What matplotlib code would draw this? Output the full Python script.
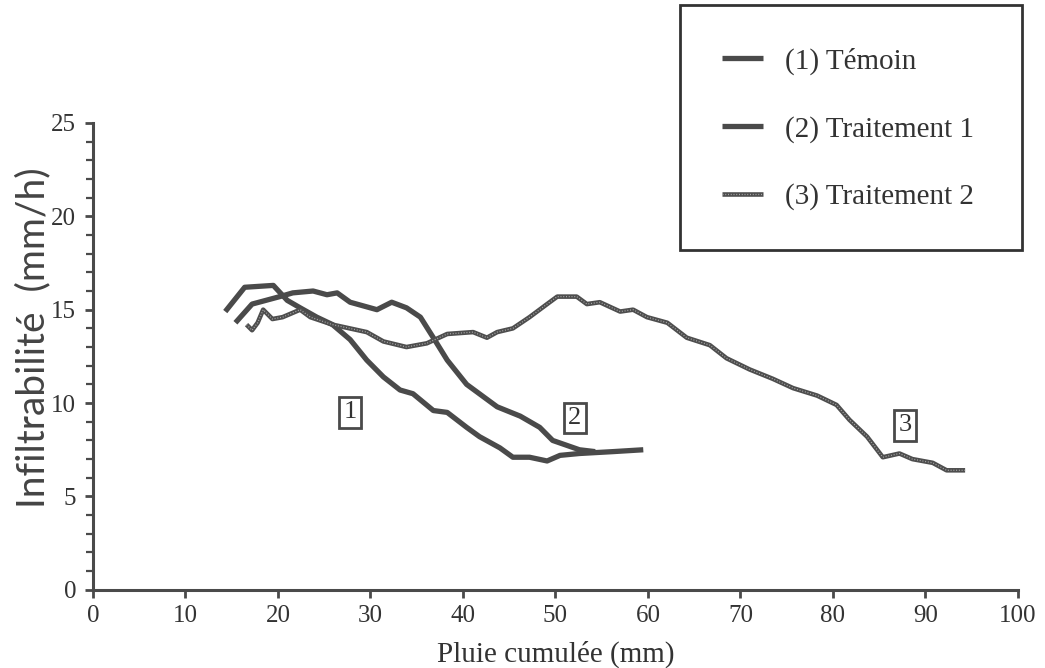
import matplotlib
matplotlib.use('Agg')
import matplotlib.pyplot as plt
from matplotlib.patches import Rectangle
from matplotlib.ticker import MultipleLocator

# Cumulative rain (mm) / infiltrability (mm/h)
x_temoin = [14.3, 16.4, 19.5, 21.0, 22.4, 24.2, 25.9, 27.8, 29.6, 31.4, 33.2, 34.6,
            36.8, 38.3, 40.4, 41.8, 44.0, 45.4, 47.2, 49.1, 50.5, 52.6, 56.2, 59.5]
y_temoin = [14.9, 16.2, 16.3, 15.5, 15.1, 14.6, 14.2, 13.4, 12.3, 11.4, 10.7, 10.5,
            9.6, 9.5, 8.7, 8.2, 7.6, 7.1, 7.1, 6.9, 7.2, 7.3, 7.4, 7.5]

x_trait1 = [15.4, 17.2, 20.2, 21.6, 23.8, 25.3, 26.4, 27.8, 30.7, 32.3, 33.9, 35.4,
            36.8, 38.3, 40.4, 43.7, 46.2, 48.3, 49.7, 52.6, 54.3]
y_trait1 = [14.3, 15.3, 15.7, 15.9, 16.0, 15.8, 15.9, 15.4, 15.0, 15.4, 15.1, 14.6,
            13.5, 12.3, 11.0, 9.8, 9.3, 8.7, 8.0, 7.5, 7.4]

x_trait2 = [16.6, 17.2, 17.8, 18.4, 19.4, 20.5, 22.4, 23.5, 25.9, 29.6, 31.4, 33.9,
            36.1, 38.3, 41.1, 42.6, 43.7, 45.4, 47.2, 49.1, 50.2, 52.3, 53.4, 54.8,
            57.0, 58.4, 59.9, 62.1, 64.2, 66.7, 68.5, 71.0, 73.5, 75.7, 78.3, 80.4,
            81.8, 83.7, 85.4, 87.2, 88.6, 90.8, 92.3, 94.3]
y_trait2 = [14.2, 13.9, 14.3, 15.0, 14.5, 14.6, 15.0, 14.6, 14.2, 13.8, 13.3, 13.0,
            13.2, 13.7, 13.8, 13.5, 13.8, 14.0, 14.6, 15.3, 15.7, 15.7, 15.3, 15.4,
            14.9, 15.0, 14.6, 14.3, 13.5, 13.1, 12.4, 11.8, 11.3, 10.8, 10.4, 9.9,
            9.1, 8.2, 7.1, 7.3, 7.0, 6.8, 6.4, 6.4]

labels = ['(1) Témoin', '(2) Traitement 1', '(3) Traitement 2']
curve_tags = ['1', '2', '3']
tag_x = [27.8, 52.1, 87.8]
tag_y = [9.5, 9.2, 8.8]

ink = '#4a4a4a'
txt = '#333333'
serif = 'Liberation Serif'

fig = plt.figure(figsize=(10.45, 6.68), dpi=100)
ax = fig.add_axes([0.089, 0.117, 0.885, 0.699])

l1, = ax.plot(x_temoin, y_temoin, color=ink, lw=3.8, solid_capstyle='butt')
l2, = ax.plot(x_trait1, y_trait1, color=ink, lw=3.8, solid_capstyle='butt')
# textured line for treatment 2: grey core with fine light dots
l3a, = ax.plot(x_trait2, y_trait2, color='#4e4e4e', lw=3.3, solid_capstyle='butt')
l3b, = ax.plot(x_trait2, y_trait2, color='#a8a8a8', lw=0.9, ls=(0, (0.8, 1.4)))

for t, tx, ty in zip(curve_tags, tag_x, tag_y):
    ax.text(tx, ty, t, fontsize=19, family=serif, color=txt, ha='center', va='center',
            bbox=dict(boxstyle='square,pad=0.16', fc='white', ec=ink, lw=2))

ax.set_xlim(0, 100)
ax.set_ylim(0, 25)
ax.xaxis.set_major_locator(MultipleLocator(10))
ax.yaxis.set_major_locator(MultipleLocator(5))
ax.yaxis.set_minor_locator(MultipleLocator(1))
for s in ['top', 'right']:
    ax.spines[s].set_visible(False)
for s in ['left', 'bottom']:
    ax.spines[s].set_linewidth(2.2)
    ax.spines[s].set_color(ink)
ax.tick_params(which='major', length=6, width=2, color=ink, labelsize=18, labelcolor=txt)
ax.tick_params(which='minor', length=5, width=1.6, color=ink)
ax.tick_params(axis='x', pad=5)
ax.tick_params(axis='y', pad=6)
for lab in ax.get_xticklabels() + ax.get_yticklabels():
    lab.set_family(serif)

ax.set_xlabel('Pluie cumulée (mm)', family=serif, fontsize=21, color=txt, labelpad=10)
ax.set_ylabel('Infiltrabilité  (mm/h)', family='Lato', fontsize=28, color='#444444')
ax.yaxis.set_label_coords(-0.045, 0.54)

# legend box
fig.patches.append(Rectangle((0.651, 0.626), 0.327, 0.366, transform=fig.transFigure,
                             fill=False, ec=txt, lw=2))
fig.legend([l1, l2, (l3a, l3b)], labels, loc='upper left', bbox_to_anchor=(0.666, 0.968),
           frameon=False, prop={'family': serif, 'size': 21}, labelcolor=txt,
           handlelength=1.4, labelspacing=1.4, handletextpad=0.75)

fig.savefig('out.png', dpi=100)
